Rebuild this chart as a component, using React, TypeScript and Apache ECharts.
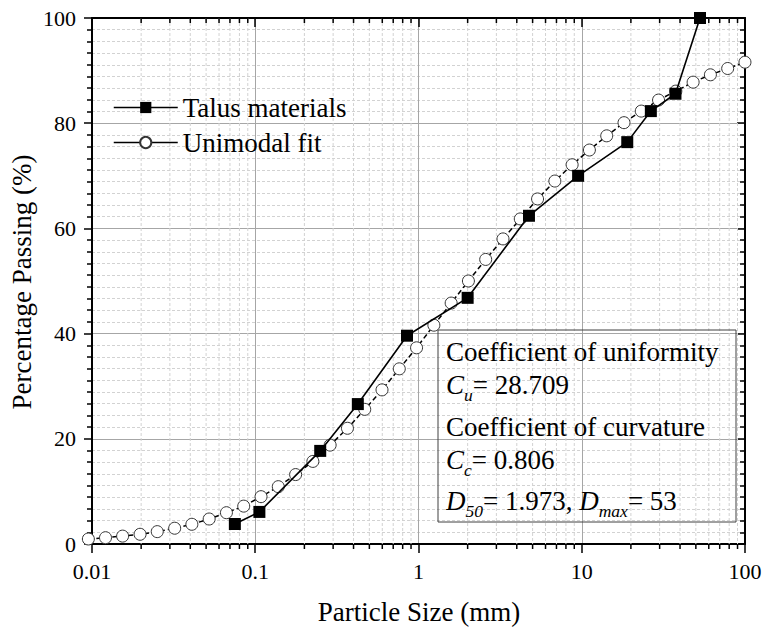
import React, { useEffect, useRef } from "react";
import * as echarts from "echarts";

// ---- Data ----
const sieveSizes = [0.075, 0.106, 0.25, 0.425, 0.85, 2.0, 4.75, 9.5, 19, 26.5, 37.5, 53];
const talusPassing = [3.8, 6.1, 17.7, 26.6, 39.6, 46.8, 62.4, 70.0, 76.4, 82.3, 85.6, 100];

const fitSizes = [
  0.0095, 0.0121, 0.0154, 0.0197, 0.0251, 0.0321, 0.0409, 0.0522, 0.0666, 0.085,
  0.1085, 0.1384, 0.1767, 0.2254, 0.2876, 0.3671, 0.4684, 0.5977, 0.7627, 0.9732,
  1.242, 1.585, 2.022, 2.58, 3.293, 4.202, 5.362, 6.843, 8.732, 11.14,
  14.22, 18.15, 23.15, 29.54, 37.7, 48.11, 61.38, 78.33, 99.95,
];
const fitPassing = [
  0.95, 1.2, 1.5, 1.85, 2.35, 3.0, 3.75, 4.75, 5.95, 7.2,
  9.0, 10.9, 13.2, 15.7, 18.8, 22.0, 25.6, 29.3, 33.3, 37.3,
  41.6, 45.8, 50.0, 54.1, 58.0, 61.8, 65.6, 69.0, 72.1, 74.9,
  77.6, 80.1, 82.3, 84.4, 86.1, 87.8, 89.2, 90.4, 91.6,
];

const xMinorTicks = [
  0.02, 0.03, 0.04, 0.05, 0.06, 0.07, 0.08, 0.09,
  0.2, 0.3, 0.4, 0.5, 0.6, 0.7, 0.8, 0.9,
  2, 3, 4, 5, 6, 7, 8, 9,
  20, 30, 40, 50, 60, 70, 80, 90,
];

const seriesNames = ["Talus materials", "Unimodal fit"];
const xTitle = "Particle Size (mm)";
const yTitle = "Percentage Passing (%)";
const cuValue = "28.709";
const ccValue = "0.806";
const d50Value = "1.973";
const dmaxValue = "53";

const FONT = "'Liberation Serif','Times New Roman',serif";

export default function App() {
  const ref = useRef<HTMLDivElement>(null);

  useEffect(() => {
    document.body.style.margin = "0";
    if (!ref.current) return;
    const chart = echarts.init(ref.current, undefined, { renderer: "svg" });

    const rich: any = {
      n: { fontSize: 27, fontFamily: FONT, color: "#000", verticalAlign: "middle" },
      i: { fontSize: 27, fontFamily: FONT, fontStyle: "italic", color: "#000", verticalAlign: "middle" },
      s: {
        fontSize: 17.5,
        fontFamily: FONT,
        fontStyle: "italic",
        color: "#000",
        verticalAlign: "middle",
        padding: [20, 0, 0, 0],
      },
    };

    const annoX = 446;
    const mkText = (y: number, text: string) => ({
      type: "text",
      x: annoX,
      y,
      z: 100,
      style: { text, rich, align: "left", verticalAlign: "middle", fill: "#000", fontSize: 27, fontFamily: FONT },
    });

    const axisLineStyle = { color: "#000", width: 2 };
    const tickStyle = { color: "#000", width: 1.5 };
    const majorGrid = { show: true, lineStyle: { color: "#a6a6a6", width: 1 } };
    const labelStyle = { color: "#000", fontSize: 22, fontFamily: FONT };

    const option: any = {
      animation: false,
      backgroundColor: "#fff",
      grid: { left: 92, right: 18, top: 18, bottom: 86, containLabel: false, outerBoundsMode: "none" },
      legend: {
        orient: "vertical",
        left: 108,
        top: 89,
        itemWidth: 64,
        itemHeight: 14,
        itemGap: 8,
        data: seriesNames,
        textStyle: { fontSize: 27, fontFamily: FONT, color: "#000" },
        lineStyle: { type: "solid", width: 1.5, color: "#000" },
      },
      xAxis: [
        {
          type: "log",
          logBase: 10,
          min: 0.01,
          max: 100,
          position: "bottom",
          axisLine: { show: true, onZero: false, lineStyle: axisLineStyle },
          axisTick: { show: true, inside: false, length: 9, lineStyle: tickStyle },
          axisLabel: { ...labelStyle, margin: 16 },
          splitLine: majorGrid,
        },
        {
          type: "log",
          logBase: 10,
          min: 0.01,
          max: 100,
          position: "top",
          axisLine: { show: true, onZero: false, lineStyle: axisLineStyle },
          axisTick: { show: true, inside: true, length: 9, lineStyle: tickStyle },
          axisLabel: { show: false },
          splitLine: { show: false },
        },
      ],
      yAxis: [
        {
          type: "value",
          min: 0,
          max: 100,
          interval: 20,
          position: "left",
          axisLine: { show: true, onZero: false, lineStyle: axisLineStyle },
          axisTick: { show: true, inside: false, length: 8, lineStyle: tickStyle },
          minorTick: { show: true, splitNumber: 9, length: 5, lineStyle: tickStyle },
          axisLabel: { ...labelStyle, margin: 16 },
          splitLine: majorGrid,
          minorSplitLine: { show: true, lineStyle: { color: "#d2d2d2", width: 1, type: [3, 2] } },
        },
        {
          type: "value",
          min: 0,
          max: 100,
          interval: 20,
          position: "right",
          axisLine: { show: true, onZero: false, lineStyle: axisLineStyle },
          axisTick: { show: true, inside: true, length: 8, lineStyle: tickStyle },
          minorTick: { show: true, splitNumber: 9, length: 5, lineStyle: tickStyle },
          axisLabel: { show: false },
          splitLine: { show: false },
        },
      ],
      series: [
        {
          type: "custom",
          name: "xminor",
          silent: true,
          z: 1,
          xAxisIndex: 0,
          yAxisIndex: 0,
          data: xMinorTicks.map((v) => [v, 50]),
          renderItem: (params: any, api: any) => {
            const x = api.coord([api.value(0), api.value(1)])[0];
            const cs = params.coordSys;
            const top = cs.y;
            const bottom = cs.y + cs.height;
            return {
              type: "group",
              children: [
                {
                  type: "line",
                  shape: { x1: x, y1: top, x2: x, y2: bottom },
                  style: { stroke: "#d2d2d2", lineWidth: 1, lineDash: [3, 2] },
                },
                {
                  type: "line",
                  shape: { x1: x, y1: bottom, x2: x, y2: bottom + 5 },
                  style: { stroke: "#000", lineWidth: 1.5 },
                },
                {
                  type: "line",
                  shape: { x1: x, y1: top, x2: x, y2: top + 5 },
                  style: { stroke: "#000", lineWidth: 1.5 },
                },
              ],
            };
          },
        },
        {
          name: seriesNames[1],
          type: "line",
          z: 3,
          clip: false,
          data: fitSizes.map((x, i) => [x, fitPassing[i]]),
          symbol: "circle",
          symbolSize: 12,
          itemStyle: { color: "#fff", borderColor: "#333", borderWidth: 1 },
          lineStyle: { color: "#000", width: 1.5, type: [5, 3] },
        },
        {
          name: seriesNames[0],
          type: "line",
          z: 4,
          clip: false,
          data: sieveSizes.map((x, i) => [x, talusPassing[i]]),
          symbol: "rect",
          symbolSize: 12,
          itemStyle: { color: "#000" },
          lineStyle: { color: "#000", width: 1.6 },
        },
      ],
      graphic: [
        {
          type: "rect",
          shape: { x: 438, y: 330, width: 298, height: 192 },
          style: { fill: "none", stroke: "#404040", lineWidth: 1 },
          z: 99,
        },
        mkText(351.5, "{n|Coefficient of uniformity}"),
        mkText(384.7, `{i|C}{s|u}{n|= ${cuValue}}`),
        mkText(427, "{n|Coefficient of curvature}"),
        mkText(460, `{i|C}{s|c}{n|= ${ccValue}}`),
        mkText(501.3, `{i|D}{s|50}{n|= ${d50Value}, }{i|D}{s|max}{n|= ${dmaxValue}}`),
        {
          type: "text",
          x: 419,
          y: 612,
          style: { text: xTitle, fontSize: 27, fontFamily: FONT, fill: "#000", align: "center", verticalAlign: "middle" },
        },
        {
          type: "text",
          x: 22,
          y: 282,
          rotation: Math.PI / 2,
          style: { text: yTitle, fontSize: 27, fontFamily: FONT, fill: "#000", align: "center", verticalAlign: "middle" },
        },
      ],
    };

    chart.setOption(option);
    return () => chart.dispose();
  }, []);

  return <div ref={ref} style={{ width: 763, height: 630 }} />;
}
